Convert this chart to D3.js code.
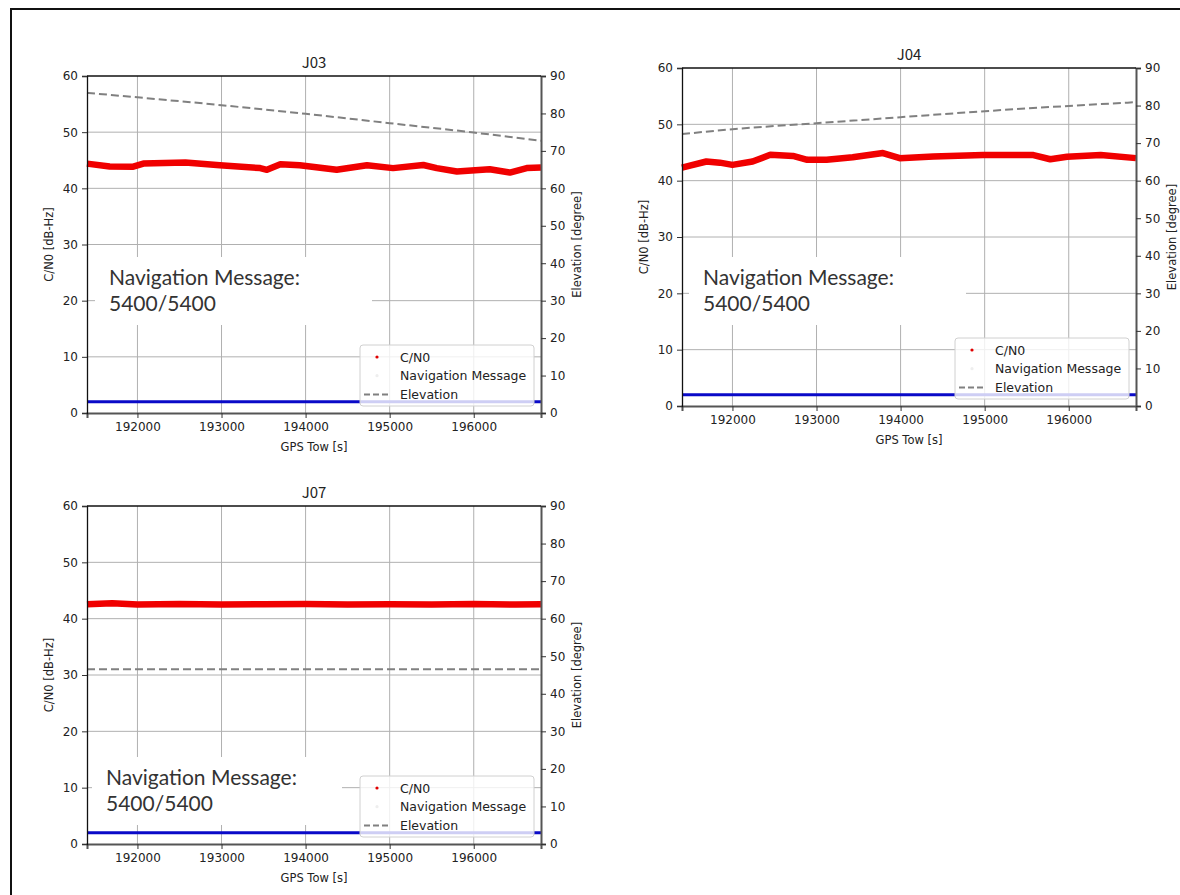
<!DOCTYPE html>
<html>
<head>
<meta charset="utf-8">
<script src="https://cdn.jsdelivr.net/npm/d3@7"></script>
<style>
  body { margin: 0; background: #fff; }
  svg { display: block; }
  .tick text { font-family: "DejaVu Sans", sans-serif; font-size: 12px; fill: #222; }
  .axisLabel { font-family: "DejaVu Sans", sans-serif; font-size: 11.5px; fill: #222; }
  .title { font-family: "Noto Sans CJK JP", sans-serif; font-size: 15px; fill: #222; }
  .note { font-family: Lato, sans-serif; font-size: 21px; fill: #333; }
  .legendText { font-family: "DejaVu Sans", sans-serif; font-size: 12.5px; fill: #222; }
</style>
</head>
<body>
<svg id="chart"></svg>
<script>
// tick values
let towTicks = [192000, 193000, 194000, 195000, 196000]
let cn0Ticks = [0, 10, 20, 30, 40, 50, 60]
let elevTicks = [0, 10, 20, 30, 40, 50, 60, 70, 80, 90]
let towDomain = [191400, 196800]

let satNames = ['J03', 'J04', 'J07']
let navMsgText = ['Navigation Message:', '5400/5400']
let navMsgLevel = 2

// C/N0
let j03Tow = [191400, 191670, 191950, 192070, 192570, 192980, 193460, 193540, 193700, 193930, 194370, 194730, 195040, 195400, 195560, 195800, 196190, 196430, 196630, 196800]
let j03Cn0 = [44.4, 43.9, 43.85, 44.4, 44.6, 44.1, 43.6, 43.3, 44.3, 44.1, 43.3, 44.1, 43.6, 44.15, 43.6, 43.0, 43.4, 42.8, 43.6, 43.7]
let j04Tow = [191400, 191690, 191850, 192000, 192240, 192450, 192720, 192890, 193120, 193430, 193790, 193990, 194390, 194980, 195580, 195780, 195980, 196380, 196800]
let j04Cn0 = [42.3, 43.4, 43.2, 42.8, 43.4, 44.6, 44.4, 43.7, 43.7, 44.15, 44.9, 44.0, 44.3, 44.55, 44.55, 43.8, 44.25, 44.55, 44.0]
let j07Tow = [191400, 191700, 192000, 192500, 193000, 193500, 194000, 194500, 195000, 195500, 196000, 196500, 196800]
let j07Cn0 = [42.55, 42.75, 42.5, 42.6, 42.5, 42.55, 42.6, 42.5, 42.55, 42.5, 42.6, 42.5, 42.55]

// elevation
let elevTow = [191400, 192000, 193000, 194000, 195000, 196000, 196800]
let j03Elev = [85.5, 84.3, 82.2, 79.9, 77.4, 74.9, 72.7]
let j04Elev = [72.4, 73.7, 75.3, 76.9, 78.5, 79.9, 80.9]
let j07Elev = [46.5, 46.5, 46.5, 46.5, 46.5, 46.5, 46.5]

let legendNames = ['C/N0', 'Navigation Message', 'Elevation']

function getConfig(){
    let width = 1180
    let height = 895
    let container = d3.select('#chart')
        .attr('width', width)
        .attr('height', height)
    // plot boxes and note boxes for each subplot
    let panels = [
        {left: 87, top: 76, w: 454, h: 337, note: {x: 95, y: 257, w: 277, h: 68, tx: 109, ty: 285}},
        {left: 682, top: 68, w: 454, h: 338, note: {x: 689, y: 257, w: 277, h: 68, tx: 703, ty: 285}},
        {left: 87, top: 506, w: 454, h: 338, note: {x: 92, y: 757, w: 250, h: 68, tx: 106, ty: 785}}
    ]
    return {width, height, container, panels}
}

function getScales(p){
    let xScale = d3.scaleLinear().domain(towDomain).range([0, p.w])
    let yScale = d3.scaleLinear().domain([0, 60]).range([p.h, 0])
    let y2Scale = d3.scaleLinear().domain([0, 90]).range([p.h, 0])
    return {xScale, yScale, y2Scale}
}

function drawPanel(config, p, name, tows, cn0, elev){
    let {container} = config
    let {xScale, yScale, y2Scale} = getScales(p)
    let g = container.append('g')
        .attr('transform', `translate(${p.left},${p.top})`)

    // grid
    g.append('g').selectAll('line').data(towTicks).join('line')
        .attr('x1', d => xScale(d)).attr('x2', d => xScale(d))
        .attr('y1', 0).attr('y2', p.h)
        .attr('stroke', '#b0b0b0').attr('stroke-width', 1)
    g.append('g').selectAll('line').data(cn0Ticks.slice(1, -1)).join('line')
        .attr('x1', 0).attr('x2', p.w)
        .attr('y1', d => yScale(d)).attr('y2', d => yScale(d))
        .attr('stroke', '#b0b0b0').attr('stroke-width', 1)

    // navigation message level
    g.append('path')
        .datum(towDomain)
        .attr('d', d3.line().x(d => xScale(d)).y(() => yScale(navMsgLevel)))
        .attr('stroke', '#0a0ac8').attr('stroke-width', 3).attr('fill', 'none')

    // C/N0
    let cnData = tows.map((t, i) => ({t, v: cn0[i]}))
    g.append('path')
        .datum(cnData)
        .attr('d', d3.line().x(d => xScale(d.t)).y(d => yScale(d.v)))
        .attr('stroke', '#f00000').attr('stroke-width', 6.5).attr('fill', 'none')
        .attr('stroke-linejoin', 'round')

    // elevation
    let elData = elevTow.map((t, i) => ({t, v: elev[i]}))
    g.append('path')
        .datum(elData)
        .attr('d', d3.line().x(d => xScale(d.t)).y(d => y2Scale(d.v)).curve(d3.curveMonotoneX))
        .attr('stroke', '#808080').attr('stroke-width', 2).attr('fill', 'none')
        .attr('stroke-dasharray', '8,4')

    // axes
    let fmt = d3.format('d')
    let axisX = d3.axisBottom(xScale).tickValues(towTicks).tickFormat(fmt).tickSizeOuter(0).tickSize(5).tickPadding(4)
    let gx = g.append('g').attr('transform', `translate(0,${p.h})`).call(axisX)
    let axisY = d3.axisLeft(yScale).tickValues(cn0Ticks).tickFormat(fmt).tickSizeOuter(0).tickSize(5).tickPadding(4)
    let gy = g.append('g').call(axisY)
    let axisY2 = d3.axisRight(y2Scale).tickValues(elevTicks).tickFormat(fmt).tickSizeOuter(0).tickSize(5).tickPadding(4)
    let gy2 = g.append('g').attr('transform', `translate(${p.w},0)`).call(axisY2)
    gx.select('.domain').attr('stroke', '#555').attr('stroke-width', 2)
    gy.select('.domain').attr('stroke', '#111').attr('stroke-width', 1.3)
    gy2.select('.domain').attr('stroke', '#555').attr('stroke-width', 2)
    g.selectAll('.tick line').attr('stroke', '#333')
    g.append('line').attr('x1', 0).attr('x2', p.w).attr('y1', 0).attr('y2', 0)
        .attr('stroke', '#111').attr('stroke-width', 1.3)

    // labels
    g.append('text').attr('class', 'title')
        .attr('x', p.w / 2).attr('y', -8).attr('text-anchor', 'middle').text(name)
    g.append('text').attr('class', 'axisLabel')
        .attr('x', p.w / 2).attr('y', p.h + 38).attr('text-anchor', 'middle').text('GPS Tow [s]')
    g.append('text').attr('class', 'axisLabel')
        .attr('transform', `translate(-34,${p.h / 2}) rotate(-90)`)
        .attr('text-anchor', 'middle').text('C/N0 [dB-Hz]')
    g.append('text').attr('class', 'axisLabel')
        .attr('transform', `translate(${p.w + 40},${p.h / 2}) rotate(-90)`)
        .attr('text-anchor', 'middle').text('Elevation [degree]')

    // legend
    let lg = g.append('g').attr('transform', `translate(${p.w - 181},${p.h - 68})`)
    lg.append('rect').attr('width', 174).attr('height', 61).attr('rx', 3)
        .attr('fill', '#fff').attr('fill-opacity', 0.8)
        .attr('stroke', '#d0d0d0').attr('stroke-width', 1)
    legendNames.forEach((n, i) => {
        let cy = 12 + i * 18.7
        if (i === 0) lg.append('circle').attr('cx', 17).attr('cy', cy).attr('r', 1.6).attr('fill', '#e00000')
        if (i === 1) lg.append('circle').attr('cx', 17).attr('cy', cy).attr('r', 1.6).attr('fill', '#eeeeee')
        if (i === 2) lg.append('line').attr('x1', 4).attr('x2', 30).attr('y1', cy).attr('y2', cy)
            .attr('stroke', '#808080').attr('stroke-width', 2).attr('stroke-dasharray', '6,3')
        lg.append('text').attr('class', 'legendText').attr('x', 40).attr('y', cy + 4.5).text(n)
    })

    // overlay note (one text, two lines)
    let nt = p.note
    container.append('rect').attr('x', nt.x).attr('y', nt.y).attr('width', nt.w).attr('height', nt.h)
        .attr('fill', '#fff')
    let note = container.append('text').attr('class', 'note')
        .attr('x', nt.tx).attr('y', nt.ty)
    navMsgText.forEach((s, i) => {
        note.append('tspan').attr('x', nt.tx).attr('dy', i === 0 ? 0 : 25.5).text(s)
    })
}

function drawChart(){
    let config = getConfig()
    config.container.append('rect')
        .attr('x', 11).attr('y', 9).attr('width', 1200).attr('height', 900)
        .attr('fill', 'none').attr('stroke', '#111').attr('stroke-width', 2)
    drawPanel(config, config.panels[0], satNames[0], j03Tow, j03Cn0, j03Elev)
    drawPanel(config, config.panels[1], satNames[1], j04Tow, j04Cn0, j04Elev)
    drawPanel(config, config.panels[2], satNames[2], j07Tow, j07Cn0, j07Elev)
}

drawChart()
</script>
</body>
</html>
